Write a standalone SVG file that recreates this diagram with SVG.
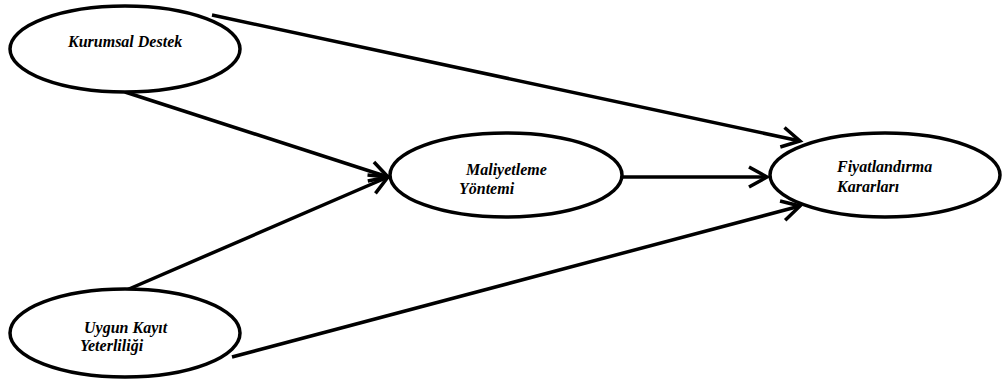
<svg xmlns="http://www.w3.org/2000/svg" width="1002" height="380" viewBox="0 0 1002 380">
<style>
.node ellipse{fill:#fff;stroke:#000;stroke-width:3.5}
.lbl{font-family:'Liberation Serif','Times New Roman',serif;font-weight:700;font-style:italic;font-size:16px;fill:#000}
.edges line{stroke:#000;stroke-width:3.5;fill:none}
</style>
<defs>
<marker id="arr" markerUnits="userSpaceOnUse" viewBox="-22 -12 26 24" refX="0" refY="0" markerWidth="26" markerHeight="24" orient="auto">
<path d="M-18,-10 L0,0 L-18,10" fill="none" stroke="#000" stroke-width="3.5" stroke-linejoin="miter"/>
</marker>
</defs>
<g class="edges">
<line x1="212" y1="15" x2="800" y2="141" marker-end="url(#arr)"/>
<line x1="125" y1="92" x2="388" y2="177" marker-end="url(#arr)"/>
<line x1="122" y1="292" x2="388" y2="177" marker-end="url(#arr)"/>
<line x1="623" y1="177" x2="767" y2="177" marker-end="url(#arr)"/>
<line x1="232" y1="357" x2="800" y2="206" marker-end="url(#arr)"/>
</g>
<g id="kurumsal" class="node">
<ellipse cx="125" cy="49" rx="115" ry="43"/>
<text class="lbl" x="68" y="47">Kurumsal Destek</text>
</g>
<g id="maliyetleme" class="node">
<ellipse cx="506" cy="175" rx="116" ry="42"/>
<text class="lbl" x="466" y="175">Maliyetleme</text>
<text class="lbl" x="459" y="194">Yöntemi</text>
</g>
<g id="fiyatlandirma" class="node">
<ellipse cx="885" cy="175" rx="115" ry="42"/>
<text class="lbl" x="837" y="172">Fiyatlandırma</text>
<text class="lbl" x="837" y="192">Kararları</text>
</g>
<g id="uygun" class="node">
<ellipse cx="125" cy="333" rx="115" ry="44"/>
<text class="lbl" x="84" y="333">Uygun Kayıt</text>
<text class="lbl" x="80" y="351">Yeterliliği</text>
</g>
</svg>
